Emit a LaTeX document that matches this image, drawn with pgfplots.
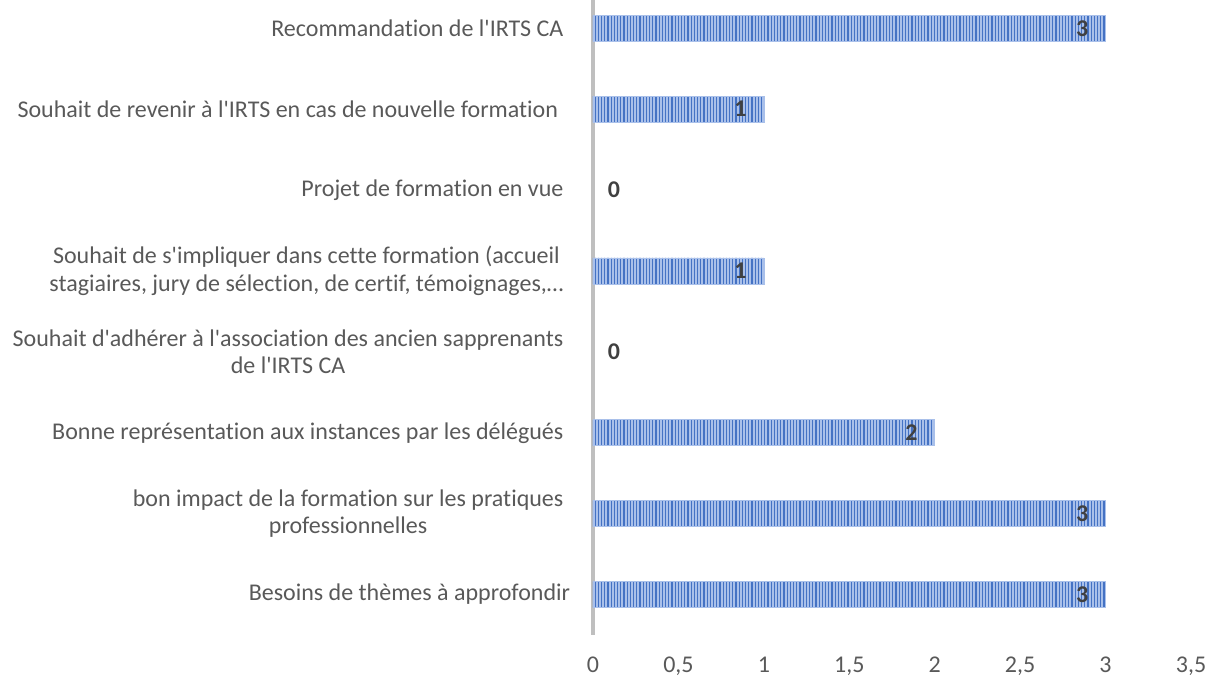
\documentclass[border=0pt]{standalone}
\usepackage{pgfplots}
\pgfplotsset{compat=1.18}
\usepackage{fontspec}
\setmainfont{Carlito}[Ligatures={NoCommon,TeXOff}]
\usetikzlibrary{patterns.meta}
\definecolor{barblue}{HTML}{4472C4}
\definecolor{barlight}{HTML}{A9C0EA}
\definecolor{txt}{HTML}{595959}
\definecolor{lbl}{HTML}{404040}
\definecolor{axl}{HTML}{BFBFBF}
\begin{document}
\begin{tikzpicture}
\path[use as bounding box] (-444.75pt,-31.5pt) rectangle (465pt,476.25pt);
\begin{axis}[
  at={(0,0)}, anchor=south west,
  scale only axis,
  width=448.5pt, height=476.25pt,
  xmin=0, xmax=3.5, ymin=-0.5, ymax=7.35,
  xbar, bar width=19.5pt, bar shift=0pt,
  axis lines=left,
  x axis line style={draw=none},
  y axis line style={draw=axl, line width=3pt, -},
  major tick length=0pt,
  xtick={0,0.5,1,1.5,2,2.5,3,3.5},
  /pgf/number format/use comma,
  /pgf/number format/assume math mode=true,
  xticklabel style={font=\fontsize{18}{21.6}\selectfont, text=txt, inner sep=0pt, yshift=-16pt},
  ytick={0,1,2,3,4,5,6,7},
  yticklabels={
    {Besoins de thèmes à approfondir\hspace{-5pt}},
    {bon impact de la formation sur les pratiques\\professionnelles},
    {Bonne représentation aux instances par les délégués},
    {Souhait d'adhérer à l'association des ancien sapprenants\\de l'IRTS CA},
    {Souhait de s'impliquer dans cette formation (accueil\\stagiaires, jury de sélection, de certif, témoignages,…},
    {Projet de formation en vue},
    {Souhait de revenir à l'IRTS en cas de nouvelle formation\ },
    {Recommandation de l'IRTS CA}},
  yticklabel style={font=\fontsize{18}{20.8}\selectfont, text=txt, align=center, inner sep=0pt, xshift=-22pt},
  clip=false,
]
\addplot[draw=barlight, fill=barlight, postaction={pattern={Lines[angle=90,distance=2.4pt,line width=1.0pt]}, pattern color=barblue},
  nodes near coords, point meta=explicit,
  every node near coord/.append style={anchor=east, inner sep=0pt, xshift=-12.75pt, font=\bfseries\fontsize{18}{21.6}\selectfont, text=lbl}]
  coordinates {(3,0) [3] (3,1) [3] (2,2) [2] (1,4) [1] (1,6) [1] (3,7) [3]};
\addplot[draw=none, fill=none,
  nodes near coords, point meta=explicit,
  every node near coord/.append style={anchor=west, inner sep=0pt, xshift=11pt, font=\bfseries\fontsize{18}{21.6}\selectfont, text=lbl}]
  coordinates {(0,3) [0] (0,5) [0]};
\end{axis}
\end{tikzpicture}
\end{document}
